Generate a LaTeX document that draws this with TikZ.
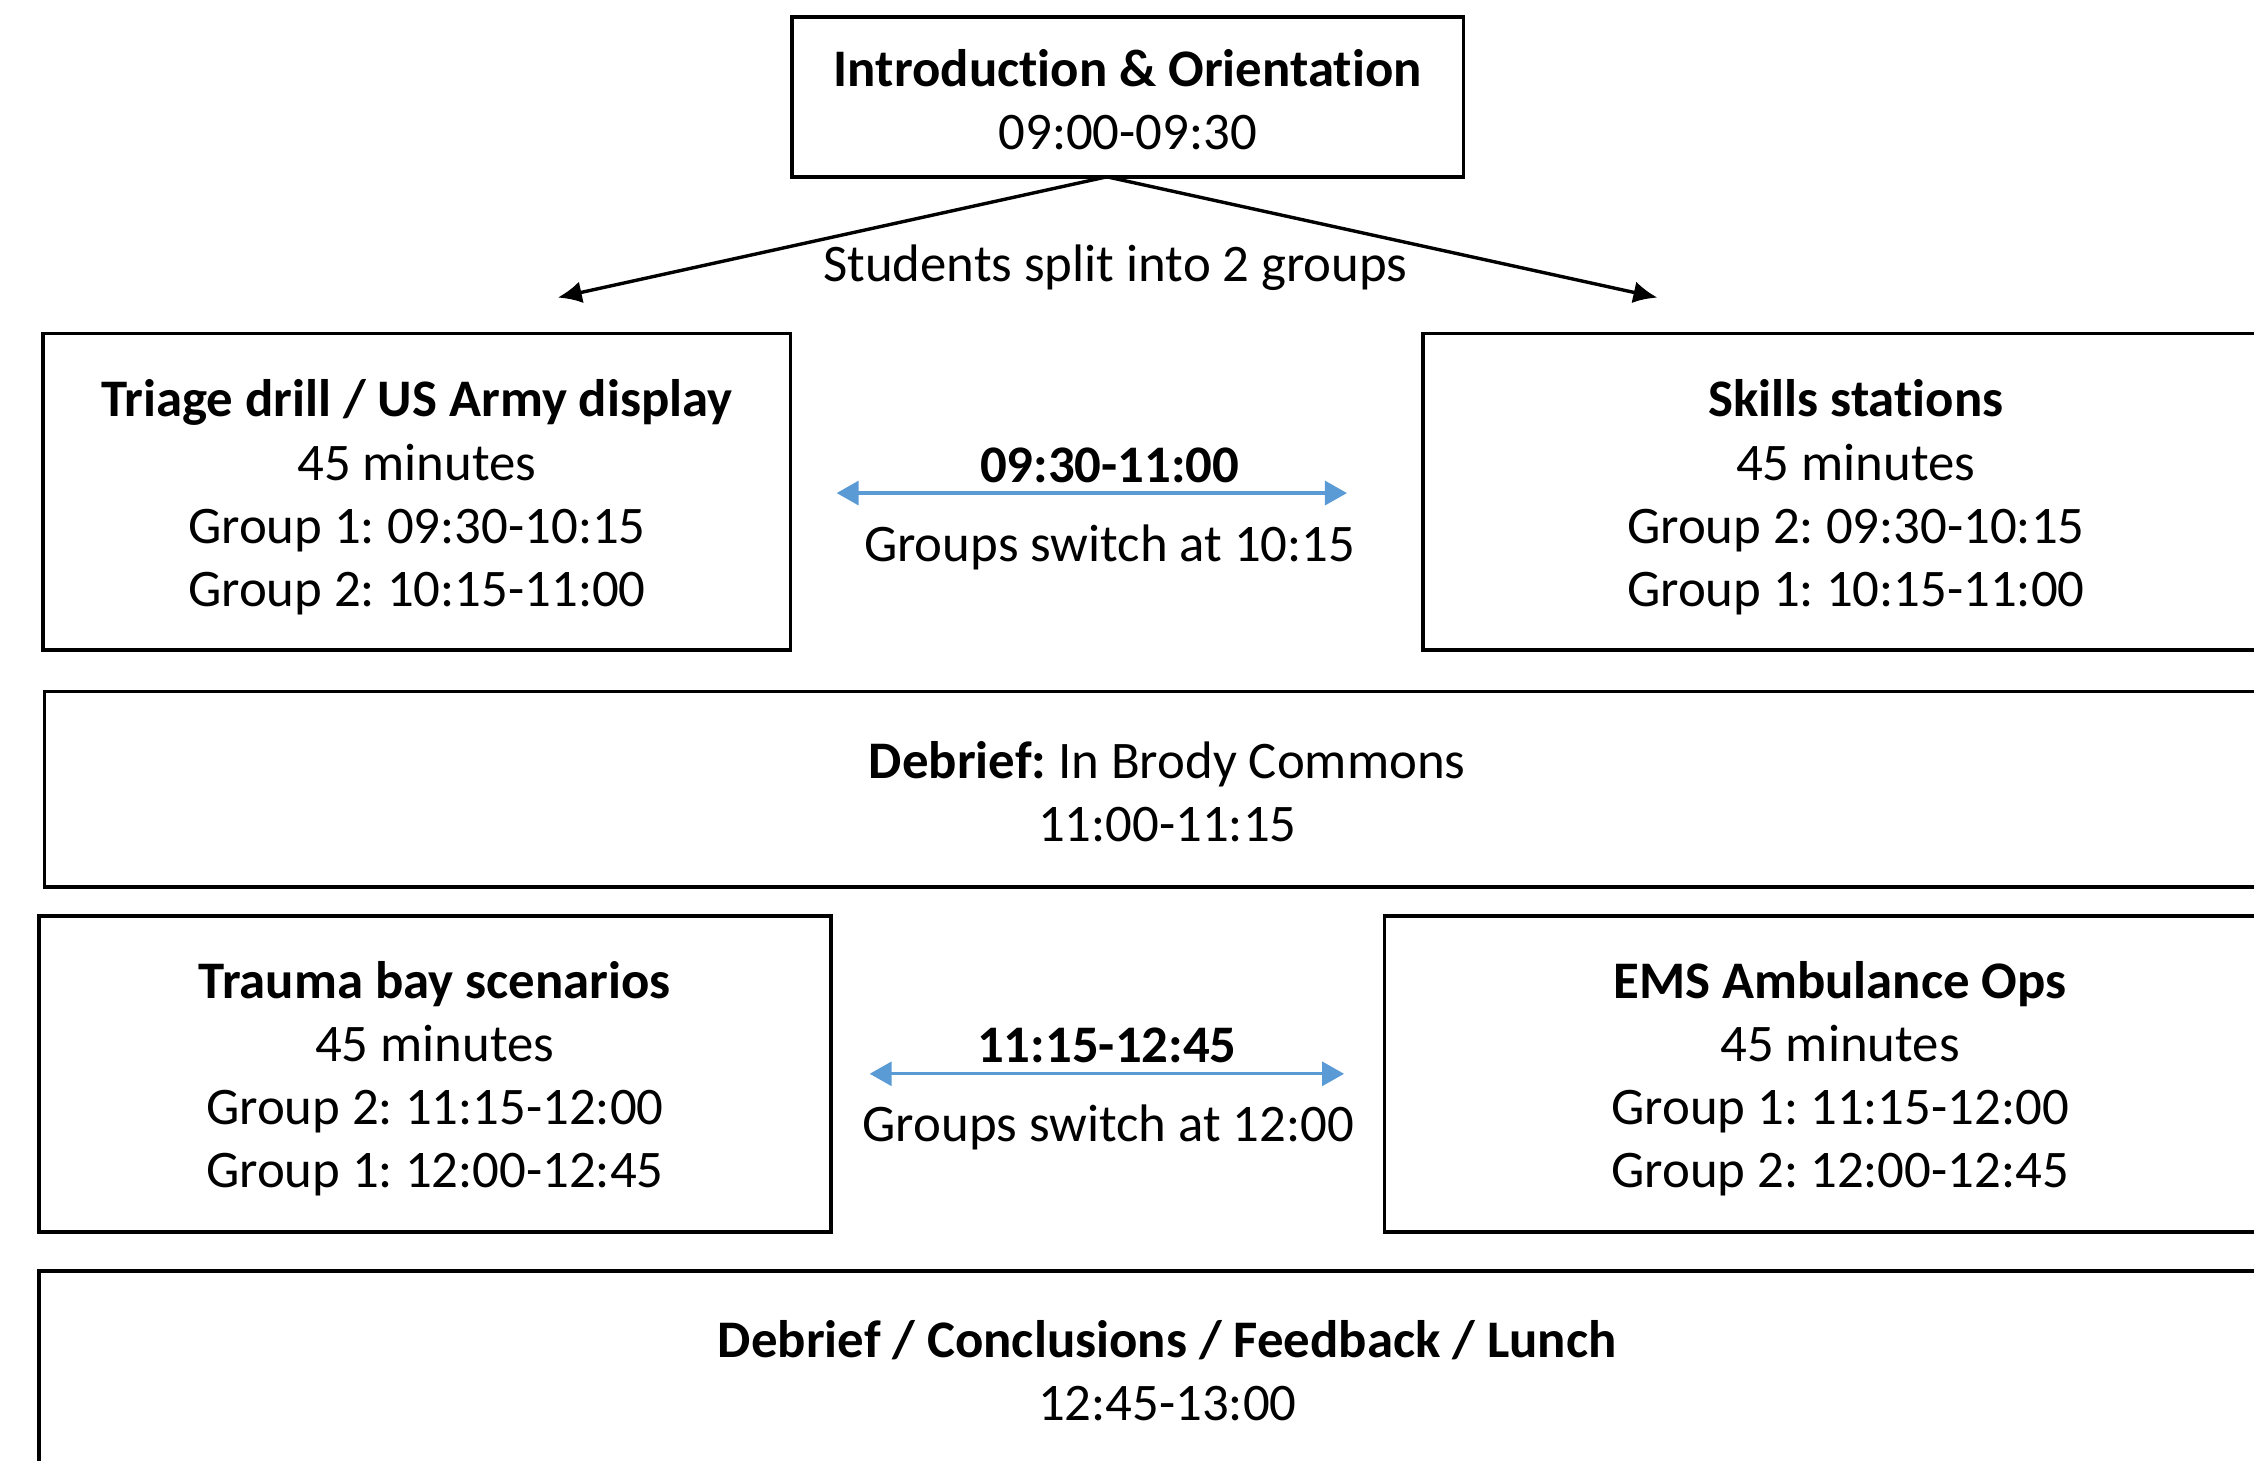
\documentclass[tikz,border=0pt]{standalone}
\usepackage{fontspec}
\setmainfont{Carlito}[Ligatures=NoCommon]
\frenchspacing
\usetikzlibrary{arrows.meta}
\definecolor{arrowblue}{RGB}{91,155,213}
\begin{document}
\begin{tikzpicture}[x=0.71875pt,y=-0.71875pt,
  every node/.style={font=\fontsize{26.4}{31.6}\selectfont},
  box/.style={draw, line width=1.8pt, inner sep=0pt},
  lbl/.style={align=center, inner sep=0pt},
  splitarrow/.style={line width=1.7pt, -{Latex[length=12pt,width=11pt]}},
  swaparrow/.style={draw=arrowblue, line width=1.6pt, {Triangle[length=11pt,width=12pt]}-{Triangle[length=11pt,width=12pt]}}]
\useasboundingbox (0,0) rectangle (1568,1016);
\clip (0,0) rectangle (1568,1016);

\node[box, minimum width=335.7pt, minimum height=79.8pt] (intro) at (784.5,67.5) {};
\node[lbl] (introtxt) at ([yshift=-1.4pt]intro.center)
  {\textbf{Introduction \& Orientation}\\09:00-09:30};

\node[box, minimum width=373.75pt, minimum height=158.1pt] (triage) at (290,342) {};
\node[lbl] (triagetxt) at ([yshift=-2.9pt]triage.center)
  {\textbf{Triage drill / US Army display}\\45 minutes\\Group 1: 09:30-10:15\\Group 2: 10:15-11:00};
\node[box, minimum width=432.7pt, minimum height=158.1pt] (skills) at (1291,342) {};
\node[lbl] (skillstxt) at ([yshift=-2.9pt]skills.center)
  {\textbf{Skills stations}\\45 minutes\\Group 2: 09:30-10:15\\Group 1: 10:15-11:00};

\node[box, minimum width=1122.7pt, minimum height=97.75pt] (debrief) at (812,549) {};
\node[lbl] (debrieftxt) at ([yshift=-1.4pt]debrief.center)
  {\textbf{Debrief:} In Brody Commons\\11:00-11:15};

\node[box, minimum width=396pt, minimum height=158.1pt] (trauma) at (302.5,747) {};
\node[lbl] (traumatxt) at ([yshift=-2.5pt]trauma.center)
  {\textbf{Trauma bay scenarios}\\45 minutes\\Group 2: 11:15-12:00\\Group 1: 12:00-12:45};
\node[box, minimum width=455.7pt, minimum height=158.1pt] (ems) at (1280,747) {};
\node[lbl] (emstxt) at ([yshift=-2.5pt]ems.center)
  {\textbf{EMS Ambulance Ops}\\45 minutes\\Group 1: 11:15-12:00\\Group 2: 12:00-12:45};

\node[box, minimum width=1128.5pt, minimum height=99.9pt] (final) at (812,953.5) {};
\node[lbl] (finaltxt) at (final.center)
  {\textbf{Debrief / Conclusions / Feedback / Lunch}\\12:45-13:00};

% split arrows
\coordinate (splitL) at (388,207);
\coordinate (splitR) at (1153,207);
\coordinate (introfoot) at (770,123);
\draw[splitarrow] (introfoot) -- (splitL);
\draw[splitarrow] (introfoot) -- (splitR);
\node[lbl] (splitlbl) at (776,186) {Students split into 2 groups};

% first swap
\coordinate (s1a) at (582,343);
\coordinate (s1b) at (937,343);
\draw[swaparrow] (s1a) -- (s1b);
\node[lbl] (s1time) at (772,324) {\textbf{09:30-11:00}};
\node[lbl] (s1txt) at (772,381) {Groups switch at 10:15};

% second swap
\coordinate (s2a) at (605,747);
\coordinate (s2b) at (935,747);
\draw[swaparrow] (s2a) -- (s2b);
\node[lbl] (s2time) at (770,727) {\textbf{11:15-12:45}};
\node[lbl] (s2txt) at (771,784) {Groups switch at 12:00};
\end{tikzpicture}
\end{document}
